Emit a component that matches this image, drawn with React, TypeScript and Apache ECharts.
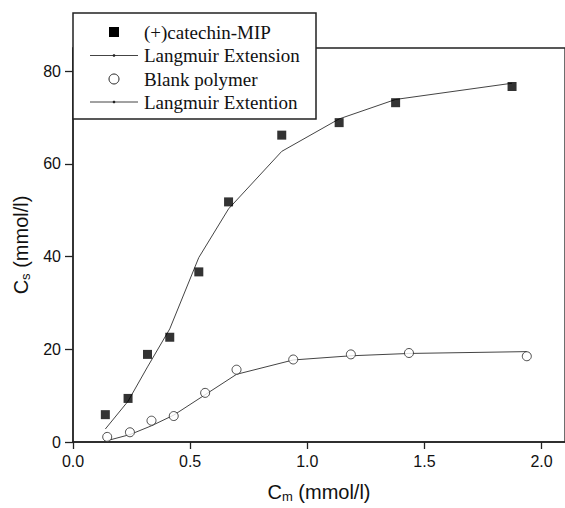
import React, { useEffect, useRef } from "react";
import * as echarts from "echarts";

const mipX = [0.138, 0.235, 0.318, 0.413, 0.537, 0.664, 0.891, 1.136, 1.377, 1.874];
const mipY = [5.9, 9.4, 18.9, 22.6, 36.7, 51.8, 66.2, 68.9, 73.2, 76.7];
const mipFit = [2.8, 8.8, 16.2, 24.4, 39.8, 50.3, 62.7, 69.7, 73.9, 77.4];

const blankX = [0.146, 0.243, 0.335, 0.43, 0.564, 0.698, 0.94, 1.186, 1.434, 1.937];
const blankY = [1.1, 2.1, 4.6, 5.6, 10.6, 15.6, 17.8, 18.9, 19.2, 18.5];
const blankFit = [0.3, 1.6, 3.5, 5.8, 10.2, 14.6, 17.7, 18.6, 19.1, 19.5];

const xTicks = [0, 0.5, 1, 1.5, 2];
const yTicks = [0, 20, 40, 60, 80];
const legendNames = ["(+)catechin-MIP", "Langmuir Extension", "Blank polymer", "Langmuir Extention"];

const zip = (xs: number[], ys: number[]) => xs.map((x, i) => [x, ys[i]]);

export default function App() {
  const ref = useRef<HTMLDivElement>(null);
  useEffect(() => {
    document.body.style.overflow = "hidden";
    const chart = echarts.init(ref.current!, null, { renderer: "svg" });
    const sans = "'Liberation Sans', Arial, sans-serif";
    const serif = "'Liberation Serif', 'Times New Roman', serif";
    const axisCol = "#222";
    const rowY = [32, 55.5, 79, 102];
    const legendGraphics: any[] = [
      {
        type: "rect",
        shape: { x: 73, y: 13, width: 243, height: 106 },
        style: { fill: "#fff", stroke: "#222", lineWidth: 1.5 },
        z: 100,
      },
      {
        type: "rect",
        shape: { x: 109, y: rowY[0] - 5, width: 10, height: 10 },
        style: { fill: "#000" },
        z: 101,
      },
      {
        type: "circle",
        shape: { cx: 114, cy: rowY[2], r: 5 },
        style: { fill: "#fff", stroke: "#222", lineWidth: 1 },
        z: 101,
      },
    ];
    [1, 3].forEach((r) => {
      legendGraphics.push({
        type: "line",
        shape: { x1: 90, y1: rowY[r], x2: 138, y2: rowY[r] },
        style: { stroke: "#444", lineWidth: 1 },
        z: 101,
      });
      legendGraphics.push({
        type: "circle",
        shape: { cx: 114, cy: rowY[r], r: 1.3 },
        style: { fill: "#222" },
        z: 102,
      });
    });
    legendNames.forEach((n, i) => {
      legendGraphics.push({
        type: "text",
        x: 144,
        y: rowY[i],
        style: {
          text: n,
          font: `19px ${serif}`,
          fill: "#111",
          verticalAlign: "middle",
        },
        z: 101,
      });
    });

    const sub = { fontFamily: sans, fontSize: 13, padding: [10, 0, 0, 0], color: "#111" };

    chart.setOption({
      animation: false,
      backgroundColor: "#fff",
      grid: {
        left: 73,
        top: 48,
        right: -1.5,
        bottom: 60,
        show: true,
        borderColor: axisCol,
        borderWidth: 1.3,
        backgroundColor: "transparent",
      },
      xAxis: {
        type: "value",
        min: 0,
        max: 2.1,
        name: "C{sub|m} (mmol/l)",
        nameLocation: "middle",
        nameGap: 38,
        nameTextStyle: {
          fontFamily: sans,
          fontSize: 20,
          color: "#111",
          rich: { sub },
        },
        axisLine: { lineStyle: { color: axisCol, width: 1.5 } },
        axisTick: { show: true, inside: false, length: 7, customValues: xTicks, lineStyle: { color: axisCol, width: 1.3 } },
        axisLabel: {
          customValues: xTicks,
          formatter: (v: number) => v.toFixed(1),
          fontFamily: sans,
          fontSize: 16,
          color: "#111",
          margin: 11,
        },
        splitLine: { show: false },
      },
      yAxis: {
        type: "value",
        min: 0,
        max: 85,
        name: "C{sub|s} (mmol/l)",
        nameLocation: "middle",
        nameRotate: 90,
        nameGap: 40,
        nameTextStyle: {
          fontFamily: sans,
          fontSize: 20,
          color: "#111",
          rich: { sub },
        },
        axisLine: { show: true, lineStyle: { color: axisCol, width: 1.5 } },
        axisTick: { show: true, inside: false, length: 8, customValues: yTicks, lineStyle: { color: axisCol, width: 1.3 } },
        axisLabel: {
          customValues: yTicks,
          fontFamily: sans,
          fontSize: 16,
          color: "#111",
          margin: 12,
        },
        splitLine: { show: false },
      },
      graphic: legendGraphics,
      series: [
        {
          name: legendNames[1],
          type: "line",
          data: zip(mipX, mipFit),
          symbol: "none",
          lineStyle: { color: "#444", width: 1 },
          z: 2,
        },
        {
          name: legendNames[3],
          type: "line",
          data: zip(blankX, blankFit),
          symbol: "none",
          lineStyle: { color: "#444", width: 1 },
          z: 2,
        },
        {
          name: legendNames[0],
          type: "scatter",
          data: zip(mipX, mipY),
          symbol: "rect",
          symbolSize: 9,
          itemStyle: { color: "#000" },
          z: 3,
        },
        {
          name: legendNames[2],
          type: "scatter",
          data: zip(blankX, blankY),
          symbol: "circle",
          symbolSize: 9,
          itemStyle: { color: "#fff", borderColor: "#222", borderWidth: 1 },
          z: 3,
        },
      ],
    });
    return () => chart.dispose();
  }, []);
  return (
    <div
      ref={ref}
      style={{ position: "fixed", left: 0, top: 0, width: 565, height: 508, background: "#fff" }}
    />
  );
}
